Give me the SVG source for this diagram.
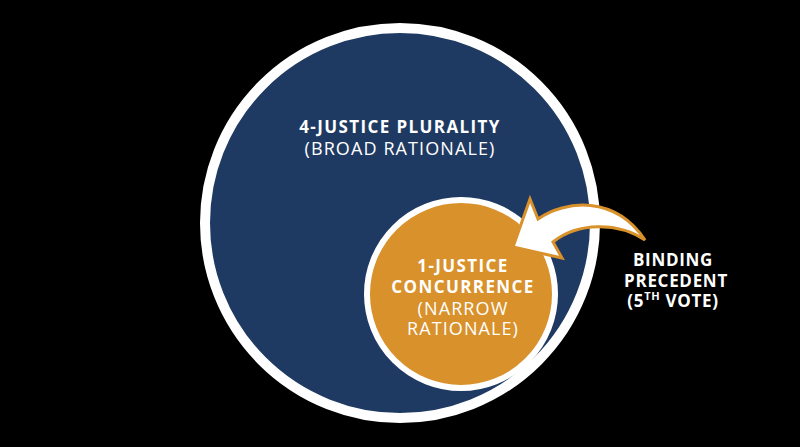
<svg xmlns="http://www.w3.org/2000/svg" width="800" height="447" viewBox="0 0 800 447">
<style>
.t{font-family:"Open Sans","Liberation Sans",sans-serif;fill:#ffffff;text-anchor:middle}
.b{font-weight:700;font-size:17px;letter-spacing:1.4px}
.r{font-weight:400;font-size:18px;letter-spacing:1.1px}
.k{font-weight:700;font-size:17px;letter-spacing:0.7px}
</style>
<rect x="0" y="0" width="800" height="447" fill="#000000"/>
<g id="plurality">
<circle cx="400" cy="223" r="195" fill="#1f3a62" stroke="#ffffff" stroke-width="10"/>
<text class="t b" x="400" y="133">4-JUSTICE PLURALITY</text>
<text class="t r" x="400" y="155">(BROAD RATIONALE)</text>
</g>
<g id="concurrence">
<circle cx="461" cy="294" r="94" fill="#d8912b" stroke="#ffffff" stroke-width="6"/>
<text class="t b" x="463" y="272">1-JUSTICE</text>
<text class="t b" x="463" y="293">CONCURRENCE</text>
<text class="t r" x="463" y="315">(NARROW</text>
<text class="t r" x="463" y="335">RATIONALE)</text>
</g>
<g id="binding">
<text class="t k" x="673" y="266">BINDING</text>
<text class="t k" x="676" y="287">PRECEDENT</text>
<text class="t k" x="673" y="307">(5<tspan font-size="11" dy="-7">TH</tspan><tspan dy="7"> VOTE)</tspan></text>
</g>
<g id="connectors">
<path d="M513,247 L530,199 L538,219 C565,200 615,195 645,240 C618,222 578,222 553,242 L562,258 Z" fill="#ffffff" stroke="#d8912b" stroke-width="3" stroke-linejoin="miter"/>
</g>
</svg>
